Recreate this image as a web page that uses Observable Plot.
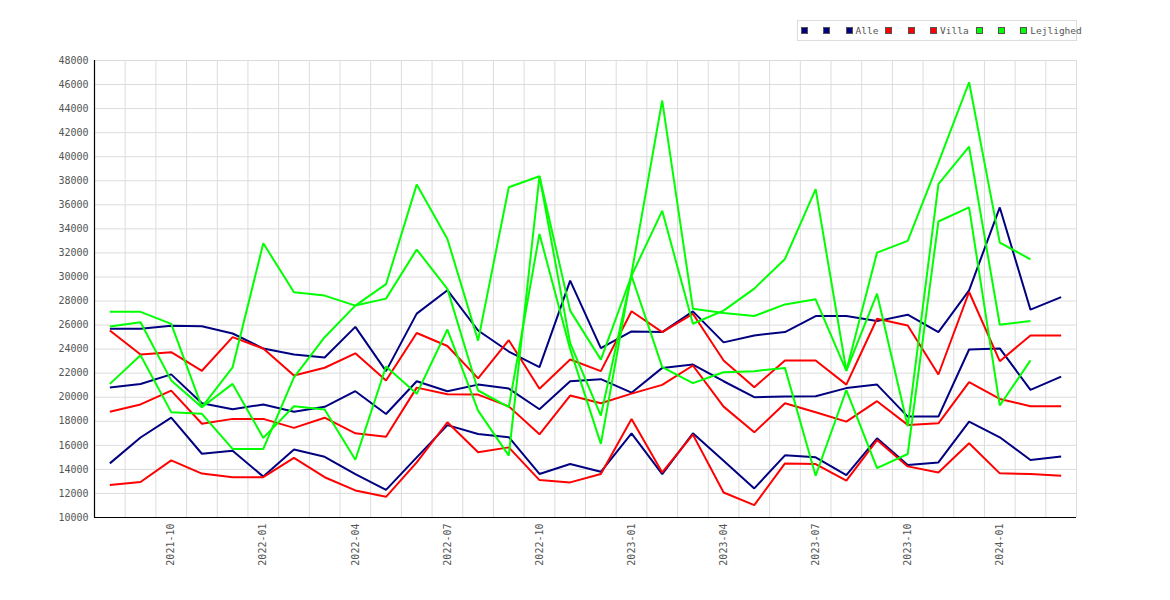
<!DOCTYPE html>
<html>
<head>
<meta charset="utf-8">
<script src="https://cdn.jsdelivr.net/npm/d3@7"></script>
<script src="https://cdn.jsdelivr.net/npm/@observablehq/plot@0.6"></script>
<style>
  body { margin: 0; background: #fff; }
  #wrap { position: relative; width: 1170px; height: 600px; }
  #legend {
    position: absolute; left: 797px; top: 20px; width: 280px; height: 21px;
    box-sizing: border-box; border: 1px solid #ddd; background: #fff;
    display: flex; align-items: center; padding-left: 3px; overflow: visible;
    font: 9.5px "DejaVu Sans Mono", monospace; color: #555; white-space: nowrap;
  }
  .item { display: flex; align-items: center; flex: none; }
  .sw { width: 5px; height: 5px; border: 1px solid #555; flex: none; }
  .item.empty { width: 22.3px; }
  .item .lab { margin-left: 3px; margin-right: 7px; }
</style>
</head>
<body>
<div id="wrap"><div id="legend"></div></div>
<script>
const months = ["2021-08","2021-09","2021-10","2021-11","2021-12",
  "2022-01","2022-02","2022-03","2022-04","2022-05","2022-06","2022-07","2022-08","2022-09","2022-10","2022-11","2022-12",
  "2023-01","2023-02","2023-03","2023-04","2023-05","2023-06","2023-07","2023-08","2023-09","2023-10","2023-11","2023-12",
  "2024-01","2024-02","2024-03"];
const tickLabels = ["2021-10","2022-01","2022-04","2022-07","2022-10","2023-01","2023-04","2023-07","2023-10","2024-01"];
const yTicks = [10000,12000,14000,16000,18000,20000,22000,24000,26000,28000,30000,32000,34000,36000,38000,40000,42000,44000,46000,48000];

const alleHigh = [25700,25700,25950,25900,25300,24050,23550,23300,25850,22170,26950,28900,25550,23800,22500,29700,24080,25470,25420,27140,24560,25140,25420,26750,26750,26330,26860,25420,28890,35780,27280,28330];
const alleMid  = [20800,21100,21900,19500,19000,19400,18800,19200,20500,18610,21330,20500,21050,20720,19000,21330,21500,20380,22440,22720,21330,20000,20060,20080,20760,21050,18390,18390,23970,24060,20610,21720];
const alleLow  = [14500,16650,18300,15300,15550,13400,15650,15050,13600,12300,15000,17680,16950,16680,13620,14450,13800,17000,13610,17000,14720,12420,15170,15000,13530,16580,14360,14580,17970,16670,14780,15080];

const villaHigh = [25550,23550,23750,22200,25000,24050,21800,22450,23650,21390,25340,24260,21570,24740,20700,23140,22170,27150,25420,26940,23060,20830,23060,23060,21050,26530,25970,21890,28750,23000,25140,25140];
const villaMid  = [18800,19400,20550,17800,18200,18200,17450,18300,17000,16720,20800,20250,20220,19240,16920,20140,19500,20300,21030,22640,19220,17080,19500,18750,17970,19670,17700,17830,21250,19860,19250,19250];
const villaLow  = [12700,12950,14750,13650,13350,13350,14950,13350,12250,11720,14580,17920,15420,15830,13110,12920,13610,18190,13750,16890,12080,11030,14500,14440,13060,16440,14250,13750,16170,13670,13610,13470];

const lejA = [27100,27100,26100,19170,22490,32800,28730,28450,27620,28200,32280,29010,20560,19170,33580,24000,16120,30300,44670,27360,27000,26750,27720,28140,22200,28610,17580,37720,40830,26030,26330];
const lejB = [25880,26230,21400,19170,21110,16620,19250,18980,14800,22560,20280,25630,18890,15150,38380,24500,18480,30100,22500,21170,22080,22170,22440,13470,20600,14110,15280,34610,35780,19310,23060];
const lejC = [21110,23490,18760,18620,15700,15700,21660,24990,27620,29400,37680,33160,24710,37460,38380,27200,23130,30100,35500,26110,27200,29030,31500,37300,22200,32030,33000,39500,46190,32860,31470];

const series = [
  {label: "", color: "#000080", values: alleHigh},
  {label: "", color: "#000080", values: alleMid},
  {label: "Alle", color: "#000080", values: alleLow},
  {label: "", color: "#ff0000", values: villaHigh},
  {label: "", color: "#ff0000", values: villaMid},
  {label: "Villa", color: "#ff0000", values: villaLow},
  {label: "", color: "#00ff00", values: lejA},
  {label: "", color: "#00ff00", values: lejB},
  {label: "Lejlighed", color: "#00ff00", values: lejC}
];

const tickIdx = tickLabels.map(t => months.indexOf(t));
const edges = months.map((m, i) => i + 0.5);
const xDomain = [-0.5, months.length - 0.5];
const yDomain = [yTicks[0], yTicks[yTicks.length - 1]];

const chart = Plot.plot({
  width: 1170,
  height: 600,
  marginLeft: 94,
  marginRight: 94,
  marginTop: 60,
  marginBottom: 83,
  style: {fontFamily: "DejaVu Sans Mono, monospace", fontSize: "10px", color: "#555", background: "transparent"},
  x: {type: "linear", domain: xDomain, ticks: tickIdx, tickFormat: i => months[i], tickRotate: -90, tickSize: 0, tickPadding: 6, label: null},
  y: {domain: yDomain, ticks: yTicks, tickFormat: d => String(d), tickSize: 0, tickPadding: 6, label: null},
  marks: [
    Plot.ruleY(yTicks, {stroke: "#dcdcdc", strokeOpacity: 1}),
    Plot.ruleX(edges, {stroke: "#dcdcdc", strokeOpacity: 1}),
    ...series.map(s => Plot.line(s.values.map((v, i) => ({i, v})), {x: "i", y: "v", stroke: s.color, strokeWidth: 2, strokeLinejoin: "miter", strokeLinecap: "butt"})),
    Plot.ruleX([xDomain[0]], {stroke: "#000", strokeWidth: 1.2}),
    Plot.ruleY([yDomain[0]], {stroke: "#000", strokeWidth: 1.2})
  ]
});
chart.style.position = "absolute";
chart.style.left = "0";
chart.style.top = "0";
document.getElementById("wrap").prepend(chart);

const legend = document.getElementById("legend");
for (const s of series) {
  const item = document.createElement("div");
  item.className = "item" + (s.label ? "" : " empty");
  const sw = document.createElement("div");
  sw.className = "sw";
  sw.style.background = s.color;
  item.appendChild(sw);
  if (s.label) {
    const lab = document.createElement("span");
    lab.className = "lab";
    lab.textContent = s.label;
    item.appendChild(lab);
  }
  legend.appendChild(item);
}
</script>
</body>
</html>
